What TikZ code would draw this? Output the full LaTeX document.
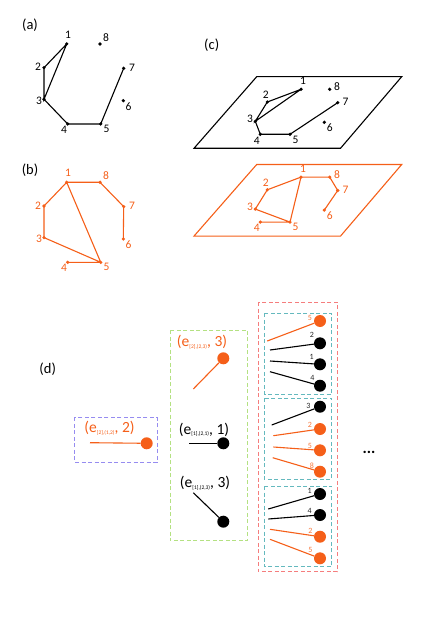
\documentclass[tikz,border=0pt]{standalone}
\usepackage{fontspec}
\setmainfont{Carlito}
\definecolor{org}{RGB}{245,95,25}
\definecolor{boxblue}{RGB}{150,140,240}
\definecolor{boxgreen}{RGB}{180,225,130}
\definecolor{boxred}{RGB}{245,125,125}
\definecolor{boxteal}{RGB}{100,185,190}
\newcommand\esub[1]{\raisebox{-1.5pt}{\fontsize{5.5}{5.5}\selectfont #1}}
\newcommand\vertsAB[1]{%
  \foreach \n/\x/\y/\lx/\ly in {1/66.7/44/68/35, 8/100/44/106/37.5, 2/44/67.7/38/67, 7/123.7/68.3/132/67.5, 3/44/99.3/39/101, 6/123.3/100.7/128.5/106.5, 4/67.7/124/64/130, 5/100.7/124/106.5/129}{
    \node[dot] (#1\n) at (\x,\y) {};
    \node[num] (#1l\n) at (\lx,\ly) {\n};
  }}
\newcommand\vertsC[1]{%
  \foreach \n/\x/\y/\lx/\ly in {1/301/89.3/303/81, 8/329.7/89.3/337/86.5, 2/267.3/102/265.7/95, 7/337.7/102.7/345.5/102, 3/255.3/121.3/250/119, 6/324.3/122.3/329.7/127.5, 4/260.3/134.3/256.7/140.5, 5/290/134.3/295.5/139.5}{
    \node[dot] (#1\n) at (\x,\y) {};
    \node[num] (#1l\n) at (\lx,\ly) {\n};
  }}
\begin{document}
\begin{tikzpicture}[x=1pt,y=-1pt,
  dot/.style={circle,fill,inner sep=0pt,minimum size=3.6pt},
  num/.style={font=\fontsize{11.5}{11.5}\selectfont,inner sep=0pt},
  title/.style={font=\fontsize{14.5}{14.5}\selectfont,inner sep=0pt},
  edge/.style={line width=1.1pt},
  frame/.style={line width=1.1pt},
  ball/.style={circle,fill,inner sep=0pt,minimum size=12pt},
  tiny/.style={font=\fontsize{8}{8}\selectfont,inner sep=0pt},
  elbl/.style={font=\fontsize{15.5}{15.5}\selectfont,inner sep=0pt},
  dbox/.style={dash pattern=on 4pt off 2.5pt, line width=0.9pt},
]
\useasboundingbox (0,0) rectangle (436,617);

% (a)
\node[title] (ta) at (30,25) {(a)};
\vertsAB{a}
\draw[edge] (a1.center) -- (a2.center) -- (a3.center) -- (a1.center)
  (a3.center) -- (a4.center) -- (a5.center) -- (a7.center);

% (b)
\node[title] (tb) at (30,170) {(b)};
\begin{scope}[shift={(0,138.3)},org]
\vertsAB{b}
\draw[edge] (b1.center) -- (b8.center) -- (b7.center) -- (b6.center)
  (b1.center) -- (b2.center) -- (b3.center) -- (b5.center) -- (b1.center)
  (b4.center) -- (b5.center);
\end{scope}

% (c)
\node[title] (tc) at (211.7,45) {(c)};
\draw[frame] (256.7,76.7) -- (401.7,76.7) -- (340.5,148.3) -- (194,148.3) -- cycle;
\vertsC{c}
\draw[edge] (c1.center) -- (c2.center) -- (c3.center) -- (c1.center)
  (c3.center) -- (c4.center) -- (c5.center) -- (c7.center);

\begin{scope}[shift={(0,87.8)},org]
\draw[frame] (256.7,76.7) -- (401.7,76.7) -- (340.5,148.3) -- (194,148.3) -- cycle;
\vertsC{o}
\draw[edge] (o1.center) -- (o8.center) -- (o7.center) -- (o6.center)
  (o1.center) -- (o2.center) -- (o3.center) -- (o5.center) -- (o1.center)
  (o4.center) -- (o5.center);
\end{scope}

% (d)
\node[title] (td) at (47.7,369.3) {(d)};

\draw[dbox,boxblue] (74.7,417.3) rectangle (157,462.3);
\node[elbl,org] (e1) at (109.5,428.3) {(e\esub{[2],(1,2)}, 2)};
\node[ball,org] (e1b) at (146.7,443.3) {};
\coordinate (e1s) at (90,442.7);
\draw[edge,org] (e1s) -- (e1b);

\draw[dbox,boxgreen] (170,330) rectangle (247.3,540.7);
\node[elbl,org] (e2) at (202,342.3) {(e\esub{[2],(2,3)}, 3)};
\node[ball,org] (e2b) at (223.3,358.3) {};
\coordinate (e2s) at (193.3,389);
\draw[edge,org] (e2s) -- (e2b);

\node[elbl] (e3) at (204,429.5) {(e\esub{[1],(2,1)}, 1)};
\node[ball] (e3b) at (223.3,443.3) {};
\coordinate (e3s) at (189.3,443.3);
\draw[edge] (e3s) -- (e3b);

\node[elbl] (e4) at (205,483) {(e\esub{[1],(2,3)}, 3)};
\node[ball] (e4b) at (223.3,521.7) {};
\coordinate (e4s) at (193.3,492.7);
\draw[edge] (e4s) -- (e4b);

\draw[dbox,boxred] (258.3,302.3) rectangle (337.3,571.7);
\draw[dbox,boxteal] (264.3,313.3) rectangle (331.7,394);
\draw[dbox,boxteal] (264.3,398.3) rectangle (331.7,479.3);
\draw[dbox,boxteal] (264.3,486) rectangle (331.7,566.7);

\foreach \i/\c/\t/\by/\lx/\ly/\sx/\sy in {
  1/org/5/321/310/318/267.3/341,
  2/black/2/343.3/312/335/270/350,
  3/black/1/364.3/311.7/356.5/270/361,
  4/black/4/385.7/312.3/378/270/371.7,
  5/black/3/406.7/308.5/405.5/271.7/425,
  6/org/2/429/310/425/273.3/435.7,
  7/org/5/450.3/310/446/273.3/447,
  8/org/8/471.7/312/465.5/272.7/457.7,
  9/black/1/494/309.7/491/268.3/509,
  10/black/4/515/309.7/511/268.3/519,
  11/org/2/536.7/310.3/530.5/270/529.3,
  12/org/5/558.3/310.3/549.5/270/539.3}{
  \node[ball,\c] (r\i) at (320,\by) {};
  \coordinate (s\i) at (\sx,\sy);
  \draw[edge,\c] (s\i) -- (r\i);
  \node[tiny,\c!85] (t\i) at (\lx,\ly) {\t};
}

\node[font=\fontsize{16}{16}\selectfont\bfseries,inner sep=0pt] (dots) at (369,452) {...};
\end{tikzpicture}
\end{document}
